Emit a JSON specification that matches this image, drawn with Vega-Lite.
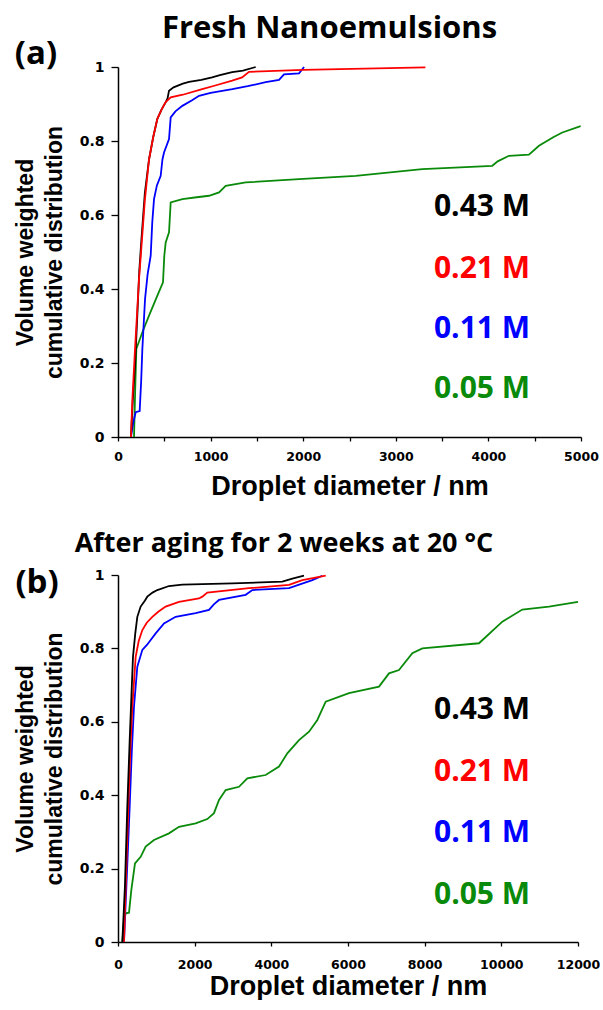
{
  "$schema": "https://vega.github.io/schema/vega-lite/v6.json",
  "padding": {"top": 13, "left": 14, "right": 0, "bottom": 0},
  "spacing": 30,
  "config": {
    "view": {"stroke": null},
    "axis": {
      "grid": false,
      "domainColor": "black",
      "domainWidth": 1.5,
      "tickColor": "black",
      "tickWidth": 1.3,
      "labelColor": "black",
      "titleColor": "black",
      "labelFont": "DejaVu Sans",
      "labelFontWeight": "bold",
      "labelFontSize": 12.5,
      "labelFlush": false,
      "labelOverlap": false
    }
  },
  "datasets": {
    "fresh": [
      {"c": "0.05 M", "d": 173, "v": 0}, {"c": "0.05 M", "d": 185, "v": 0.12}, {"c": "0.05 M", "d": 198, "v": 0.238}, {"c": "0.05 M", "d": 230, "v": 0.26}, {"c": "0.05 M", "d": 263, "v": 0.283}, {"c": "0.05 M", "d": 335, "v": 0.328}, {"c": "0.05 M", "d": 380, "v": 0.355}, {"c": "0.05 M", "d": 425, "v": 0.382}, {"c": "0.05 M", "d": 486, "v": 0.418}, {"c": "0.05 M", "d": 500, "v": 0.49}, {"c": "0.05 M", "d": 515, "v": 0.526}, {"c": "0.05 M", "d": 551, "v": 0.553}, {"c": "0.05 M", "d": 569, "v": 0.634}, {"c": "0.05 M", "d": 695, "v": 0.643}, {"c": "0.05 M", "d": 850, "v": 0.648}, {"c": "0.05 M", "d": 983, "v": 0.652}, {"c": "0.05 M", "d": 1091, "v": 0.661}, {"c": "0.05 M", "d": 1163, "v": 0.679}, {"c": "0.05 M", "d": 1379, "v": 0.688}, {"c": "0.05 M", "d": 1955, "v": 0.697}, {"c": "0.05 M", "d": 2567, "v": 0.706}, {"c": "0.05 M", "d": 3286, "v": 0.724}, {"c": "0.05 M", "d": 4042, "v": 0.733}, {"c": "0.05 M", "d": 4100, "v": 0.745}, {"c": "0.05 M", "d": 4222, "v": 0.76}, {"c": "0.05 M", "d": 4438, "v": 0.763}, {"c": "0.05 M", "d": 4546, "v": 0.787}, {"c": "0.05 M", "d": 4700, "v": 0.81}, {"c": "0.05 M", "d": 4798, "v": 0.823}, {"c": "0.05 M", "d": 4996, "v": 0.84},
      {"c": "0.11 M", "d": 140, "v": 0}, {"c": "0.11 M", "d": 165, "v": 0.04}, {"c": "0.11 M", "d": 191, "v": 0.067}, {"c": "0.11 M", "d": 234, "v": 0.07}, {"c": "0.11 M", "d": 250, "v": 0.15}, {"c": "0.11 M", "d": 263, "v": 0.238}, {"c": "0.11 M", "d": 292, "v": 0.373}, {"c": "0.11 M", "d": 320, "v": 0.44}, {"c": "0.11 M", "d": 353, "v": 0.49}, {"c": "0.11 M", "d": 370, "v": 0.58}, {"c": "0.11 M", "d": 389, "v": 0.643}, {"c": "0.11 M", "d": 420, "v": 0.68}, {"c": "0.11 M", "d": 461, "v": 0.706}, {"c": "0.11 M", "d": 480, "v": 0.75}, {"c": "0.11 M", "d": 497, "v": 0.769}, {"c": "0.11 M", "d": 551, "v": 0.805}, {"c": "0.11 M", "d": 569, "v": 0.864}, {"c": "0.11 M", "d": 620, "v": 0.88}, {"c": "0.11 M", "d": 695, "v": 0.895}, {"c": "0.11 M", "d": 800, "v": 0.91}, {"c": "0.11 M", "d": 875, "v": 0.922}, {"c": "0.11 M", "d": 1000, "v": 0.93}, {"c": "0.11 M", "d": 1235, "v": 0.94}, {"c": "0.11 M", "d": 1400, "v": 0.948}, {"c": "0.11 M", "d": 1595, "v": 0.959}, {"c": "0.11 M", "d": 1739, "v": 0.965}, {"c": "0.11 M", "d": 1793, "v": 0.98}, {"c": "0.11 M", "d": 1955, "v": 0.983}, {"c": "0.11 M", "d": 2009, "v": 1.0},
      {"c": "0.43 M", "d": 140, "v": 0}, {"c": "0.43 M", "d": 160, "v": 0.1}, {"c": "0.43 M", "d": 185, "v": 0.2}, {"c": "0.43 M", "d": 209, "v": 0.33}, {"c": "0.43 M", "d": 230, "v": 0.45}, {"c": "0.43 M", "d": 252, "v": 0.53}, {"c": "0.43 M", "d": 290, "v": 0.66}, {"c": "0.43 M", "d": 335, "v": 0.75}, {"c": "0.43 M", "d": 380, "v": 0.81}, {"c": "0.43 M", "d": 425, "v": 0.86}, {"c": "0.43 M", "d": 470, "v": 0.885}, {"c": "0.43 M", "d": 515, "v": 0.905}, {"c": "0.43 M", "d": 535, "v": 0.915}, {"c": "0.43 M", "d": 551, "v": 0.936}, {"c": "0.43 M", "d": 600, "v": 0.945}, {"c": "0.43 M", "d": 700, "v": 0.955}, {"c": "0.43 M", "d": 767, "v": 0.96}, {"c": "0.43 M", "d": 900, "v": 0.965}, {"c": "0.43 M", "d": 1016, "v": 0.972}, {"c": "0.43 M", "d": 1100, "v": 0.978}, {"c": "0.43 M", "d": 1233, "v": 0.986}, {"c": "0.43 M", "d": 1350, "v": 0.99}, {"c": "0.43 M", "d": 1487, "v": 1.0},
      {"c": "0.21 M", "d": 140, "v": 0}, {"c": "0.21 M", "d": 155, "v": 0.1}, {"c": "0.21 M", "d": 180, "v": 0.22}, {"c": "0.21 M", "d": 205, "v": 0.33}, {"c": "0.21 M", "d": 225, "v": 0.42}, {"c": "0.21 M", "d": 252, "v": 0.51}, {"c": "0.21 M", "d": 290, "v": 0.64}, {"c": "0.21 M", "d": 335, "v": 0.75}, {"c": "0.21 M", "d": 380, "v": 0.81}, {"c": "0.21 M", "d": 425, "v": 0.86}, {"c": "0.21 M", "d": 470, "v": 0.885}, {"c": "0.21 M", "d": 515, "v": 0.905}, {"c": "0.21 M", "d": 569, "v": 0.918}, {"c": "0.21 M", "d": 700, "v": 0.925}, {"c": "0.21 M", "d": 909, "v": 0.94}, {"c": "0.21 M", "d": 1050, "v": 0.95}, {"c": "0.21 M", "d": 1233, "v": 0.963}, {"c": "0.21 M", "d": 1340, "v": 0.972}, {"c": "0.21 M", "d": 1415, "v": 0.987}, {"c": "0.21 M", "d": 2000, "v": 0.992}, {"c": "0.21 M", "d": 3320, "v": 0.999}
    ],
    "aged": [
      {"c": "0.05 M", "d": 113, "v": 0}, {"c": "0.05 M", "d": 157, "v": 0.06}, {"c": "0.05 M", "d": 200, "v": 0.078}, {"c": "0.05 M", "d": 287, "v": 0.08}, {"c": "0.05 M", "d": 348, "v": 0.142}, {"c": "0.05 M", "d": 443, "v": 0.214}, {"c": "0.05 M", "d": 591, "v": 0.232}, {"c": "0.05 M", "d": 722, "v": 0.26}, {"c": "0.05 M", "d": 939, "v": 0.278}, {"c": "0.05 M", "d": 1330, "v": 0.296}, {"c": "0.05 M", "d": 1591, "v": 0.314}, {"c": "0.05 M", "d": 2026, "v": 0.323}, {"c": "0.05 M", "d": 2330, "v": 0.335}, {"c": "0.05 M", "d": 2504, "v": 0.351}, {"c": "0.05 M", "d": 2635, "v": 0.387}, {"c": "0.05 M", "d": 2809, "v": 0.414}, {"c": "0.05 M", "d": 3157, "v": 0.423}, {"c": "0.05 M", "d": 3374, "v": 0.446}, {"c": "0.05 M", "d": 3852, "v": 0.455}, {"c": "0.05 M", "d": 4200, "v": 0.478}, {"c": "0.05 M", "d": 4417, "v": 0.514}, {"c": "0.05 M", "d": 4722, "v": 0.55}, {"c": "0.05 M", "d": 4983, "v": 0.573}, {"c": "0.05 M", "d": 5200, "v": 0.605}, {"c": "0.05 M", "d": 5418, "v": 0.655}, {"c": "0.05 M", "d": 6026, "v": 0.678}, {"c": "0.05 M", "d": 6809, "v": 0.696}, {"c": "0.05 M", "d": 7070, "v": 0.732}, {"c": "0.05 M", "d": 7330, "v": 0.741}, {"c": "0.05 M", "d": 7678, "v": 0.787}, {"c": "0.05 M", "d": 7939, "v": 0.8}, {"c": "0.05 M", "d": 9417, "v": 0.814}, {"c": "0.05 M", "d": 10026, "v": 0.873}, {"c": "0.05 M", "d": 10548, "v": 0.906}, {"c": "0.05 M", "d": 11243, "v": 0.914}, {"c": "0.05 M", "d": 12000, "v": 0.927},
      {"c": "0.11 M", "d": 157, "v": 0}, {"c": "0.11 M", "d": 230, "v": 0.18}, {"c": "0.11 M", "d": 305, "v": 0.369}, {"c": "0.11 M", "d": 360, "v": 0.52}, {"c": "0.11 M", "d": 417, "v": 0.641}, {"c": "0.11 M", "d": 504, "v": 0.75}, {"c": "0.11 M", "d": 635, "v": 0.796}, {"c": "0.11 M", "d": 760, "v": 0.81}, {"c": "0.11 M", "d": 852, "v": 0.823}, {"c": "0.11 M", "d": 983, "v": 0.841}, {"c": "0.11 M", "d": 1200, "v": 0.868}, {"c": "0.11 M", "d": 1504, "v": 0.886}, {"c": "0.11 M", "d": 2026, "v": 0.896}, {"c": "0.11 M", "d": 2374, "v": 0.905}, {"c": "0.11 M", "d": 2500, "v": 0.92}, {"c": "0.11 M", "d": 2635, "v": 0.932}, {"c": "0.11 M", "d": 3330, "v": 0.946}, {"c": "0.11 M", "d": 3504, "v": 0.959}, {"c": "0.11 M", "d": 4461, "v": 0.964}, {"c": "0.11 M", "d": 5070, "v": 0.986}, {"c": "0.11 M", "d": 5330, "v": 0.998},
      {"c": "0.21 M", "d": 157, "v": 0}, {"c": "0.21 M", "d": 210, "v": 0.18}, {"c": "0.21 M", "d": 270, "v": 0.369}, {"c": "0.21 M", "d": 320, "v": 0.52}, {"c": "0.21 M", "d": 374, "v": 0.641}, {"c": "0.21 M", "d": 461, "v": 0.777}, {"c": "0.21 M", "d": 540, "v": 0.82}, {"c": "0.21 M", "d": 635, "v": 0.85}, {"c": "0.21 M", "d": 750, "v": 0.87}, {"c": "0.21 M", "d": 896, "v": 0.886}, {"c": "0.21 M", "d": 1050, "v": 0.9}, {"c": "0.21 M", "d": 1243, "v": 0.914}, {"c": "0.21 M", "d": 1591, "v": 0.927}, {"c": "0.21 M", "d": 2113, "v": 0.936}, {"c": "0.21 M", "d": 2200, "v": 0.941}, {"c": "0.21 M", "d": 2330, "v": 0.952}, {"c": "0.21 M", "d": 3417, "v": 0.964}, {"c": "0.21 M", "d": 4461, "v": 0.973}, {"c": "0.21 M", "d": 4809, "v": 0.986}, {"c": "0.21 M", "d": 5418, "v": 0.998},
      {"c": "0.43 M", "d": 113, "v": 0}, {"c": "0.43 M", "d": 180, "v": 0.15}, {"c": "0.43 M", "d": 243, "v": 0.369}, {"c": "0.43 M", "d": 305, "v": 0.55}, {"c": "0.43 M", "d": 350, "v": 0.67}, {"c": "0.43 M", "d": 391, "v": 0.777}, {"c": "0.43 M", "d": 450, "v": 0.84}, {"c": "0.43 M", "d": 504, "v": 0.886}, {"c": "0.43 M", "d": 591, "v": 0.914}, {"c": "0.43 M", "d": 700, "v": 0.93}, {"c": "0.43 M", "d": 765, "v": 0.941}, {"c": "0.43 M", "d": 900, "v": 0.952}, {"c": "0.43 M", "d": 1026, "v": 0.959}, {"c": "0.43 M", "d": 1330, "v": 0.97}, {"c": "0.43 M", "d": 1678, "v": 0.974}, {"c": "0.43 M", "d": 2983, "v": 0.977}, {"c": "0.43 M", "d": 4287, "v": 0.982}, {"c": "0.43 M", "d": 4548, "v": 0.99}, {"c": "0.43 M", "d": 4852, "v": 0.998}
    ],
    "labelsA": [
      {"c": "0.43 M", "x": 3412, "y": 0.622}, {"c": "0.21 M", "x": 3412, "y": 0.454}, {"c": "0.11 M", "x": 3412, "y": 0.292}, {"c": "0.05 M", "x": 3412, "y": 0.13}
    ],
    "labelsB": [
      {"c": "0.43 M", "x": 8243, "y": 0.632}, {"c": "0.21 M", "x": 8243, "y": 0.463}, {"c": "0.11 M", "x": 8243, "y": 0.297}, {"c": "0.05 M", "x": 8243, "y": 0.128}
    ],
    "tagA": [{"t": "(a)", "x": -886, "y": 1.035}],
    "tagB": [{"t": "(b)", "x": -2113, "y": 0.978}]
  },
  "vconcat": [
    {
      "width": 463,
      "height": 370,
      "title": {"text": "Fresh Nanoemulsions", "font": "Open Sans", "fontSize": 31, "fontWeight": "bold", "color": "black", "dx": -20, "offset": -7},
      "layer": [
        {
          "data": {"name": "fresh"},
          "mark": {"type": "line", "strokeWidth": 1.8},
          "encoding": {
            "x": {"field": "d", "type": "quantitative", "scale": {"domain": [0, 5000], "nice": false},
              "axis": {"title": "Droplet diameter / nm", "titleFont": "Liberation Sans", "titleFontWeight": "bold", "titleFontSize": 27, "titlePadding": 11,
                "labelFont": "DejaVu Sans", "labelFontWeight": "bold", "labelFontSize": 12.5, "labelColor": "black", "labelPadding": 9,
                "values": [0, 500, 1000, 1500, 2000, 2500, 3000, 3500, 4000, 4500, 5000],
                "labelExpr": "datum.value % 1000 === 0 ? format(datum.value, 'd') : ''",
                "tickSize": 4}},
            "y": {"field": "v", "type": "quantitative", "scale": {"domain": [0, 1], "nice": false},
              "axis": {"title": ["Volume weighted", "cumulative distribution"], "titleFont": "Liberation Sans", "titleFontWeight": "bold", "titleFontSize": 23, "titleLineHeight": 29, "titlePadding": 13,
                "labelFont": "DejaVu Sans", "labelFontWeight": "bold", "labelFontSize": 14, "labelColor": "black", "labelPadding": 7,
                "values": [0, 0.1, 0.2, 0.3, 0.4, 0.5, 0.6, 0.7, 0.8, 0.9, 1],
                "labelExpr": "round(datum.value * 10) % 2 === 0 ? format(datum.value, '~g') : ''",
                "tickSize": 7}},
            "color": {"field": "c", "type": "nominal", "scale": {"domain": ["0.43 M", "0.21 M", "0.11 M", "0.05 M"], "range": ["#000000", "#ff0000", "#0000ff", "#0a8a0a"]}, "legend": null}
          }
        },
        {
          "data": {"name": "labelsA"},
          "mark": {"type": "text", "align": "left", "baseline": "middle", "font": "Open Sans", "fontSize": 30, "fontWeight": "bold"},
          "encoding": {
            "x": {"field": "x", "type": "quantitative"},
            "y": {"field": "y", "type": "quantitative"},
            "text": {"field": "c"},
            "color": {"field": "c", "type": "nominal", "legend": null}
          }
        },
        {
          "data": {"name": "tagA"},
          "mark": {"type": "text", "align": "center", "baseline": "middle", "font": "Open Sans", "fontSize": 33, "fontWeight": "bold", "color": "black"},
          "encoding": {
            "x": {"field": "x", "type": "quantitative"},
            "y": {"field": "y", "type": "quantitative"},
            "text": {"field": "t"}
          }
        }
      ]
    },
    {
      "width": 460,
      "height": 367,
      "title": {"text": "After aging for 2 weeks at 20 °C", "font": "Open Sans", "fontSize": 27, "fontWeight": "bold", "color": "black", "dx": -64, "offset": 9},
      "layer": [
        {
          "data": {"name": "aged"},
          "mark": {"type": "line", "strokeWidth": 1.8},
          "encoding": {
            "x": {"field": "d", "type": "quantitative", "scale": {"domain": [0, 12000], "nice": false},
              "axis": {"title": "Droplet diameter / nm", "titleFont": "Liberation Sans", "titleFontWeight": "bold", "titleFontSize": 27, "titlePadding": 3,
                "labelFont": "DejaVu Sans", "labelFontWeight": "bold", "labelFontSize": 12.5, "labelColor": "black", "labelPadding": 12,
                "values": [0, 1000, 2000, 3000, 4000, 5000, 6000, 7000, 8000, 9000, 10000, 11000, 12000],
                "labelExpr": "datum.value % 2000 === 0 ? format(datum.value, 'd') : ''",
                "tickSize": 4}},
            "y": {"field": "v", "type": "quantitative", "scale": {"domain": [0, 1], "nice": false},
              "axis": {"title": ["Volume weighted", "cumulative distribution"], "titleFont": "Liberation Sans", "titleFontWeight": "bold", "titleFontSize": 23, "titleLineHeight": 29, "titlePadding": 13,
                "labelFont": "DejaVu Sans", "labelFontWeight": "bold", "labelFontSize": 14, "labelColor": "black", "labelPadding": 7,
                "values": [0, 0.1, 0.2, 0.3, 0.4, 0.5, 0.6, 0.7, 0.8, 0.9, 1],
                "labelExpr": "round(datum.value * 10) % 2 === 0 ? format(datum.value, '~g') : ''",
                "tickSize": 7}},
            "color": {"field": "c", "type": "nominal", "scale": {"domain": ["0.43 M", "0.21 M", "0.11 M", "0.05 M"], "range": ["#000000", "#ff0000", "#0000ff", "#0a8a0a"]}, "legend": null}
          }
        },
        {
          "data": {"name": "labelsB"},
          "mark": {"type": "text", "align": "left", "baseline": "middle", "font": "Open Sans", "fontSize": 30, "fontWeight": "bold"},
          "encoding": {
            "x": {"field": "x", "type": "quantitative"},
            "y": {"field": "y", "type": "quantitative"},
            "text": {"field": "c"},
            "color": {"field": "c", "type": "nominal", "legend": null}
          }
        },
        {
          "data": {"name": "tagB"},
          "mark": {"type": "text", "align": "center", "baseline": "middle", "font": "Open Sans", "fontSize": 33, "fontWeight": "bold", "color": "black"},
          "encoding": {
            "x": {"field": "x", "type": "quantitative"},
            "y": {"field": "y", "type": "quantitative"},
            "text": {"field": "t"}
          }
        }
      ]
    }
  ]
}
